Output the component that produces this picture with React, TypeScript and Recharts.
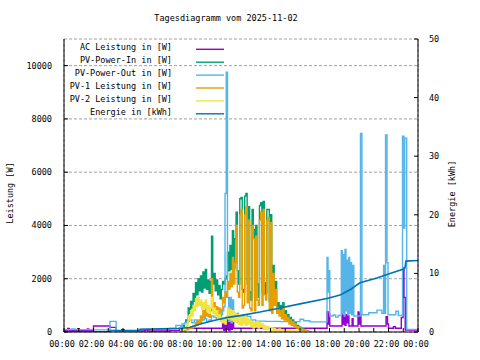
import { LineChart, Line, XAxis, YAxis, CartesianGrid } from 'recharts'

const MONO = '"DejaVu Sans Mono", "Liberation Mono", monospace'

const hourTicks = [0, 60, 120, 180, 240, 300, 360, 420, 480, 540, 600, 660, 720, 780, 840, 900, 960, 1020, 1080, 1140, 1200, 1260, 1320, 1380, 1440]
const gridHours = [0, 120, 240, 360, 480, 600, 720, 840, 960, 1080, 1200, 1320, 1440]
const powerTicks = [0, 2000, 4000, 6000, 8000, 10000]
const energyTicks = [0, 10, 20, 30, 40, 50]

// minutes of the day for the PV strings (5 min samples)
const pvMinutes = [
  475, 480, 485, 490, 495, 500, 505, 510, 515, 520,
  525, 530, 535, 540, 545, 550, 555, 560, 565, 570,
  575, 580, 585, 590, 595, 600, 605, 610, 615, 620,
  625, 630, 635, 640, 645, 650, 655, 660, 665, 670,
  675, 680, 685, 690, 695, 700, 705, 710, 715, 720,
  725, 730, 735, 740, 745, 750, 755, 760, 765, 770,
  775, 780, 785, 790, 795, 800, 805, 810, 815, 820,
  825, 830, 835, 840, 845, 850, 855, 860, 865, 870,
  875, 880, 885, 890, 895, 900, 905, 910, 915, 920,
  925, 930, 935, 940, 945, 950, 955, 960, 965, 970,
  975, 980, 985, 990, 995, 1000,
]

const pvIn = [
  0, 100, 250, 200, 450, 400, 900, 700, 1150, 900,
  1450, 1150, 1850, 1400, 2000, 1550, 2100, 1500, 2250, 1650,
  2350, 1600, 1950, 1450, 1900, 3600, 1800, 2200, 1550, 1950,
  1400, 1750, 1250, 1600, 1900, 1800, 2000, 2100, 3000, 2300,
  3250, 2350, 3800, 2400, 3500, 4500, 2300, 1800, 5000, 5050,
  1600, 1500, 5100, 5200, 1800, 4700, 1500, 1200, 4600, 3850,
  1300, 4000, 1800, 1300, 4750, 4850, 1500, 4900, 1850, 1450,
  4600, 4600, 1150, 4400, 1000, 2500, 1300, 1900, 950, 1100,
  850, 1000, 700, 1100, 650, 800, 550, 650, 450, 550,
  350, 450, 300, 350, 220, 250, 150, 180, 80, 120,
  50, 70, 30, 40, 10, 0,
]

const pv1 = [
  0, 0, 50, 30, 100, 80, 150, 120, 200, 150,
  250, 200, 350, 250, 450, 350, 600, 450, 800, 550,
  900, 600, 700, 550, 800, 2000, 900, 1100, 750, 950,
  700, 900, 650, 850, 1300, 1100, 1500, 1300, 1900, 1600,
  2200, 1700, 2800, 1800, 2600, 4000, 1500, 1300, 4400, 4600,
  900, 1000, 4400, 4700, 1100, 4200, 900, 800, 4000, 3500,
  800, 3600, 1200, 1000, 4200, 4500, 1000, 4600, 1400, 1200,
  4200, 4300, 800, 4100, 700, 2200, 1000, 1600, 700, 900,
  600, 800, 500, 900, 450, 650, 400, 550, 300, 450,
  250, 350, 200, 300, 150, 200, 100, 150, 60, 100,
  40, 60, 20, 30, 10, 0,
]

const pv2 = [
  0, 50, 150, 100, 300, 250, 600, 450, 800, 600,
  1000, 800, 1250, 950, 1300, 1000, 1200, 850, 1100, 900,
  1200, 800, 1000, 700, 900, 1300, 700, 900, 600, 800,
  500, 650, 400, 550, 350, 500, 300, 600, 900, 500,
  850, 450, 800, 400, 700, 350, 650, 300, 600, 250,
  550, 300, 600, 250, 500, 300, 450, 200, 400, 150,
  350, 200, 400, 150, 350, 200, 300, 100, 250, 100,
  200, 80, 180, 60, 150, 50, 120, 60, 100, 40,
  110, 50, 90, 30, 80, 40, 70, 20, 60, 30,
  50, 20, 40, 10, 30, 10, 20, 0, 0, 0,
  0, 0, 0, 0, 0, 0,
]

const pvOut: [number, number][] = [
  [0, 90], [30, 110], [45, 90], [120, 80], [187, 400], [212, 20], [309, 100], [430, 130],
  [455, 250], [475, 200], [480, 300], [490, 350], [500, 400], [510, 450], [520, 350],
  [530, 450], [540, 400], [550, 350], [560, 450], [570, 500], [580, 400], [590, 450],
  [600, 600], [610, 550], [620, 500], [630, 550], [640, 650], [645, 800], [650, 950],
  [655, 5200], [660, 9750], [665, 1300], [670, 400], [675, 1300], [680, 350], [685, 1200],
  [690, 450], [695, 700], [710, 600], [730, 650], [745, 580], [760, 450], [780, 410],
  [820, 400], [880, 390], [960, 480], [975, 420], [1000, 380], [1070, 2800], [1074, 1500],
  [1077, 2300], [1081, 600], [1095, 640], [1105, 560], [1115, 620], [1128, 3050], [1132, 700],
  [1136, 2900], [1140, 600], [1143, 3100], [1147, 800], [1150, 2700], [1154, 650], [1158, 2800],
  [1162, 700], [1166, 2600], [1170, 650], [1175, 2500], [1179, 600], [1206, 7450], [1212, 650],
  [1240, 720], [1273, 820], [1293, 700], [1300, 2500], [1304, 700], [1308, 7400], [1314, 2600],
  [1318, 650], [1340, 650], [1350, 780], [1360, 620], [1377, 7350], [1383, 3900], [1386, 7280],
  [1394, 100], [1440, 100],
]

const acPower: [number, number][] = [
  [0, 60], [15, 130], [22, 60], [55, 120], [62, 60], [95, 110], [100, 60], [120, 225],
  [187, 175], [212, 40], [235, 90], [245, 40], [330, 70], [340, 40], [430, 60], [470, 140],
  [640, 140], [645, 420], [650, 60], [655, 450], [660, 100], [665, 450], [670, 60], [675, 400],
  [680, 100], [685, 380], [690, 140], [1070, 760], [1074, 300], [1077, 700], [1081, 225],
  [1131, 640], [1135, 300], [1139, 600], [1143, 250], [1147, 650], [1151, 350], [1155, 600],
  [1159, 225], [1172, 500], [1176, 225], [1196, 750], [1200, 300], [1204, 700], [1208, 225],
  [1310, 575], [1316, 300], [1320, 140], [1340, 200], [1348, 140], [1372, 540], [1379, 2400],
  [1383, 1300], [1388, 75], [1440, 75],
]

const energie: [number, number][] = [
  [0, 0.05], [187, 0.05], [188, 0.25], [309, 0.3], [310, 0.45], [480, 0.65], [513, 0.8],
  [565, 1.5], [614, 2.0], [667, 2.5], [716, 2.8], [797, 3.4], [879, 4.1], [960, 4.8],
  [1074, 5.75], [1123, 6.3], [1163, 7.2], [1204, 8.4], [1273, 9.2], [1326, 10.0],
  [1379, 10.7], [1387, 10.9], [1391, 12.1], [1440, 12.2],
]

const series = [
  { name: 'AC Leistung in [W]', color: '#9400d3' },
  { name: 'PV-Power-In in [W]', color: '#009e73' },
  { name: 'PV-Power-Out in [W]', color: '#56b4e9' },
  { name: 'PV-1 Leistung in [W]', color: '#e69f00' },
  { name: 'PV-2 Leistung in [W]', color: '#f0e442' },
  { name: 'Energie in [kWh]', color: '#0072b2' },
]

const toPoints = (pairs: [number, number][]) => pairs.map(([t, v]) => ({ t, v }))
const fromGrid = (vals: number[]) => pvMinutes.map((t, i) => ({ t, v: vals[i] }))

function hhmm(m: number): string {
  if (m % 120 !== 0) return ''
  return `${String((m / 60) % 24).padStart(2, '0')}:00`
}

const tickStyle = { fill: '#000', fontSize: 8.5, fontFamily: MONO }
const black = { stroke: '#000' }

export default function App() {
  const lines = [
    { data: toPoints(acPower), axis: 'left', type: 'stepAfter', width: 1.4 },
    { data: fromGrid(pvIn), axis: 'left', type: 'stepAfter', width: 1.4 },
    { data: toPoints(pvOut), axis: 'left', type: 'stepAfter', width: 1.4 },
    { data: fromGrid(pv1), axis: 'left', type: 'stepAfter', width: 1.4 },
    { data: fromGrid(pv2), axis: 'left', type: 'stepAfter', width: 1.4 },
    { data: toPoints(energie), axis: 'right', type: 'linear', width: 1.6 },
  ] as const

  return (
    <div style={{ position: 'absolute', left: 0, top: 0, width: 480, height: 360, background: '#fff' }}>
      <LineChart width={480} height={360} margin={{ top: 39, right: 0, bottom: 0, left: 0 }}>
        <CartesianGrid xAxisId="top" yAxisId="left" stroke="#a0a0a0" strokeDasharray="3 2" />
        <XAxis
          dataKey="t"
          type="number"
          domain={[0, 1440]}
          allowDataOverflow
          ticks={hourTicks}
          interval={0}
          tickFormatter={hhmm}
          height={28}
          tickSize={-4}
          tickMargin={13}
          tick={{ ...tickStyle, dx: -2 }}
          axisLine={black}
          tickLine={black}
        />
        <XAxis
          xAxisId="top"
          orientation="top"
          dataKey="t"
          type="number"
          domain={[0, 1440]}
          allowDataOverflow
          ticks={gridHours}
          interval={0}
          height={0}
          tick={false}
          tickSize={-4}
          axisLine={black}
          tickLine={black}
        />
        <YAxis
          yAxisId="left"
          orientation="left"
          type="number"
          domain={[0, 11000]}
          allowDataOverflow
          ticks={powerTicks}
          interval={0}
          width={64}
          tickSize={-4}
          tickMargin={16}
          tick={tickStyle}
          axisLine={black}
          tickLine={black}
        />
        <YAxis
          yAxisId="right"
          orientation="right"
          type="number"
          domain={[0, 50]}
          allowDataOverflow
          ticks={energyTicks}
          interval={0}
          width={62}
          tickSize={-4}
          tickMargin={15}
          tick={tickStyle}
          axisLine={black}
          tickLine={black}
        />
        {lines.map((l, i) => (
          <Line
            key={series[i].name}
            data={l.data}
            dataKey="v"
            yAxisId={l.axis}
            type={l.type}
            stroke={series[i].color}
            strokeWidth={l.width}
            dot={false}
            activeDot={false}
            isAnimationActive={false}
          />
        ))}
      </LineChart>

      {/* title, legend and axis names, gnuplot style */}
      <svg
        width={480}
        height={360}
        style={{ position: 'absolute', left: 0, top: 0, pointerEvents: 'none' }}
        fontFamily={MONO}
        fontSize={8.5}
      >
        <text x={226} y={20.5} textAnchor="middle" fill="#000">Tagesdiagramm vom 2025-11-02</text>
        {series.map((s, i) => {
          const y = 49.3 + i * 12.9
          return (
            <g key={s.name}>
              <text x={172} y={y + 1} textAnchor="end" fill="#000">{s.name}</text>
              <line x1={196} x2={224} y1={y} y2={y} stroke={s.color} strokeWidth={1.4} />
            </g>
          )
        })}
        <text transform="translate(12.5,193) rotate(-90)" textAnchor="middle" fill="#000">Leistung [W]</text>
        <text transform="translate(455,194) rotate(-90)" textAnchor="middle" fill="#000">Energie [kWh]</text>
      </svg>
    </div>
  )
}
